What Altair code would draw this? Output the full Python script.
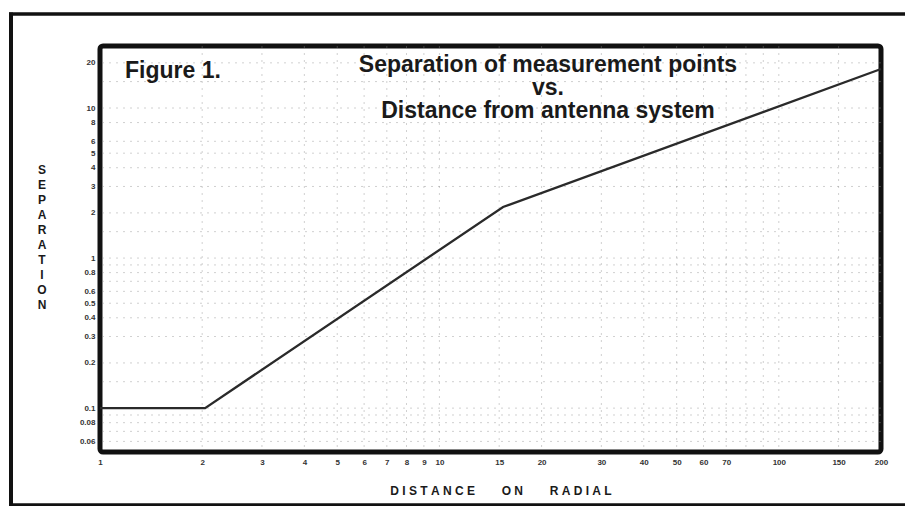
import altair as alt
import pandas as pd

# ---- data ----
line_x = [1, 2.04, 15.4, 200]
line_y = [0.1, 0.1, 2.19, 18.2]

x_ticks = [1, 2, 3, 4, 5, 6, 7, 8, 9, 10, 15, 20, 30, 40, 50, 60, 70, 100, 150, 200]
y_ticks = [0.06, 0.08, 0.1, 0.2, 0.3, 0.4, 0.5, 0.6, 0.8, 1, 2, 3, 4, 5, 6, 8, 10, 20]

grid_x = [2, 3, 4, 5, 6, 7, 8, 9, 10, 15, 20, 30, 40, 50, 60, 70, 80, 90, 100, 150]
grid_y = [0.06, 0.07, 0.08, 0.09, 0.1, 0.15, 0.2, 0.3, 0.4, 0.5, 0.6, 0.7, 0.8, 0.9,
          1, 1.5, 2, 3, 4, 5, 6, 8, 10, 15, 20]

fig_label = "Figure 1."
title_lines = ["Separation of measurement points", "vs.", "Distance from antenna system"]
NB = "\u00a0"
x_title = (NB * 8).join([NB.join("DISTANCE"), NB.join("ON"), NB.join("RADIAL")])
y_title = list("SEPARATION")

W, H = 781, 406
FONT = "Liberation Sans"

xs = alt.Scale(type="log", domain=[1, 200], nice=False)
ys = alt.Scale(type="log", domain=[0.051, 25.9], nice=False)

x_axis = alt.Axis(values=x_ticks, format="~g", title=None, grid=False,
                  ticks=False, domain=False, labelPadding=6,
                  labelFlush=False, labelOverlap=False,
                  labelFontSize=8, labelFontWeight="bold",
                  labelColor="#333", labelFont=FONT)
y_axis = alt.Axis(values=y_ticks, format="~g", title=None, grid=False,
                  ticks=False, domain=False, labelPadding=5,
                  labelFlush=False, labelOverlap=False,
                  labelFontSize=8, labelFontWeight="bold",
                  labelColor="#333", labelFont=FONT)

line_df = pd.DataFrame({"x": line_x, "y": line_y})
gx_df = pd.DataFrame({"x": grid_x})
gy_df = pd.DataFrame({"y": grid_y})
one = pd.DataFrame({"k": [0]})

grid_style = dict(color="#8a8a8a", strokeWidth=1, strokeDash=[2, 5], opacity=0.4)

gridx = alt.Chart(gx_df).mark_rule(**grid_style).encode(
    x=alt.X("x:Q", scale=xs, axis=x_axis)
)
gridy = alt.Chart(gy_df).mark_rule(**grid_style).encode(
    y=alt.Y("y:Q", scale=ys, axis=y_axis)
)

line = alt.Chart(line_df).mark_line(color="#2a2a2a", strokeWidth=2.3).encode(
    x=alt.X("x:Q", scale=xs, axis=x_axis),
    y=alt.Y("y:Q", scale=ys, axis=y_axis),
    order=alt.Order("x:Q"),
)

fig_text = alt.Chart(one).mark_text(
    font=FONT, fontSize=23, fontWeight="bold", align="left",
    baseline="alphabetic", color="#1a1a1a"
).encode(x=alt.value(25), y=alt.value(32), text=alt.value(fig_label))

title_text = alt.Chart(one).mark_text(
    font=FONT, fontSize=23, fontWeight="bold", align="center",
    baseline="alphabetic", color="#1a1a1a", lineHeight=23
).encode(x=alt.value(448), y=alt.value(26), text=alt.value(title_lines))

xt = alt.Chart(one).mark_text(
    font=FONT, fontSize=12, fontWeight="bold", align="center",
    baseline="alphabetic", color="#1a1a1a"
).encode(x=alt.value(401), y=alt.value(449), text=alt.value(x_title))

yt = alt.Chart(one).mark_text(
    font=FONT, fontSize=12, fontWeight="bold", align="center",
    baseline="alphabetic", color="#1a1a1a", lineHeight=15
).encode(x=alt.value(-58), y=alt.value(128), text=alt.value(y_title))

frame_top = alt.Chart(one).mark_rule(color="#111", strokeWidth=3.5).encode(
    x=alt.value(-91), x2=alt.value(810), y=alt.value(-32))
frame_left = alt.Chart(one).mark_rule(color="#111", strokeWidth=4).encode(
    x=alt.value(-89), y=alt.value(-33.5), y2=alt.value(460))
frame_bottom = alt.Chart(one).mark_rule(color="#111", strokeWidth=3.5).encode(
    x=alt.value(-91), x2=alt.value(810), y=alt.value(459))

chart = alt.layer(
    gridx, gridy, line, fig_text, title_text, xt, yt,
    frame_top, frame_left, frame_bottom
).properties(
    width=W, height=H,
    autosize=alt.AutoSizeParams(type="none"),
    padding={"left": 92, "top": 38, "right": 24, "bottom": 54},
    background="white",
).configure_view(
    stroke="#111", strokeWidth=5, cornerRadius=3
)

chart.save("out.html", embed_options={"renderer": "svg", "actions": False})
